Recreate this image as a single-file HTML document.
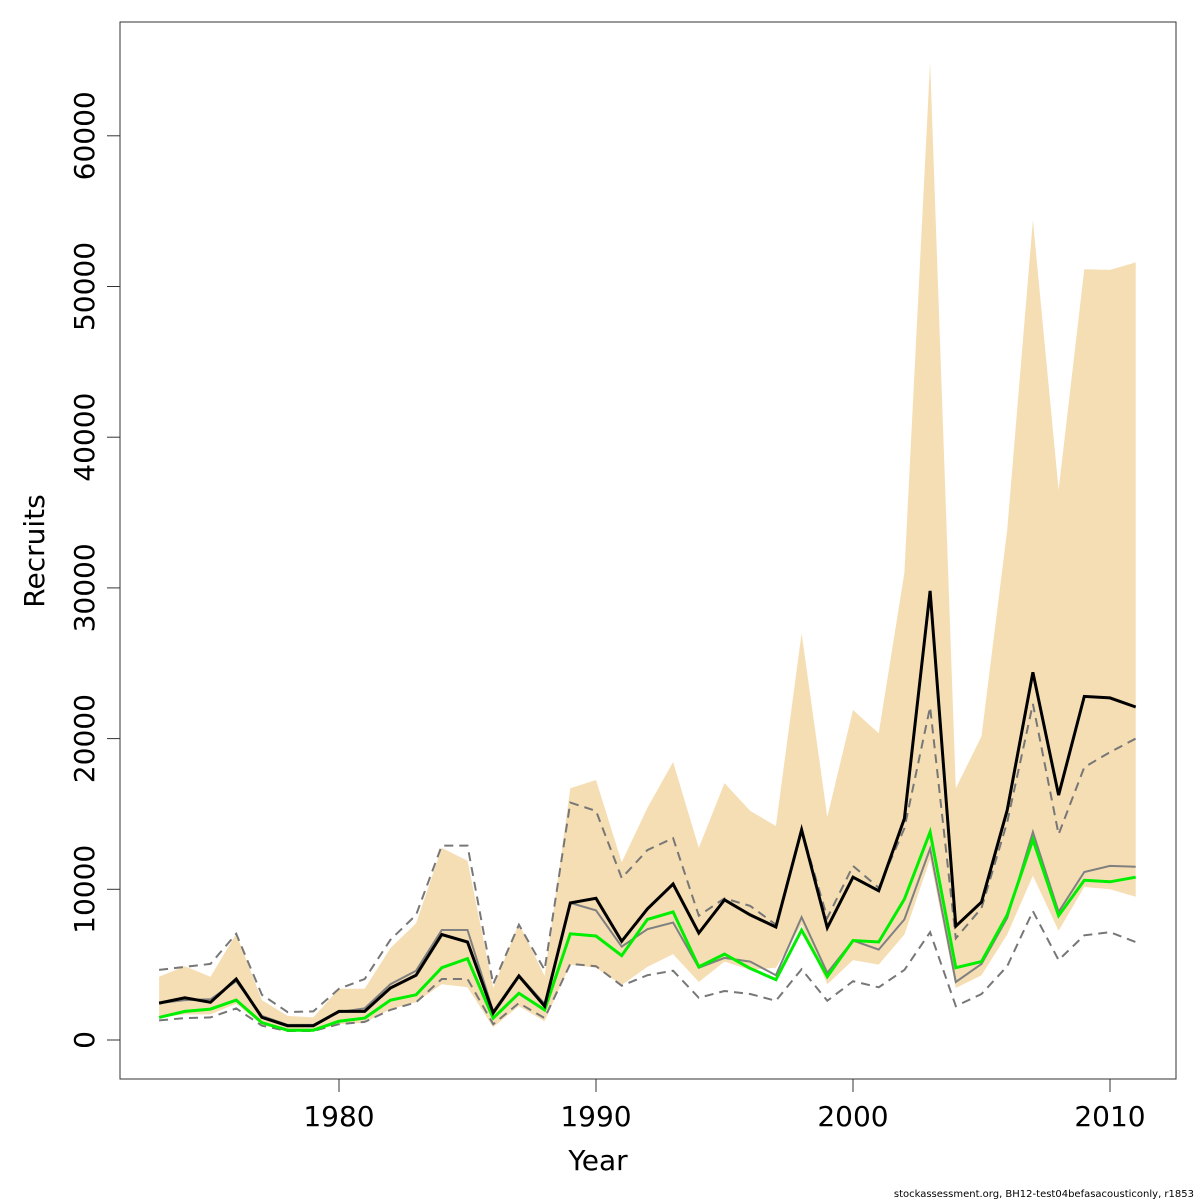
<!DOCTYPE html>
<html><head><meta charset="utf-8"><style>
body{margin:0;background:#fff}
svg{display:block;font-family:"DejaVu Sans","Liberation Sans",sans-serif}
</style></head><body>
<svg id="chart" width="1200" height="1200" viewBox="0 0 1200 1200" xmlns="http://www.w3.org/2000/svg">
<rect x="0" y="0" width="1200" height="1200" fill="#fff"/>
<g id="plot"></g>
<rect x="120" y="22" width="1056" height="1057" fill="none" stroke="#333" stroke-width="1"/>
<text x="598" y="1170" font-size="28" text-anchor="middle">Year</text>
<text transform="translate(44,551) rotate(-90)" font-size="28" text-anchor="middle">Recruits</text>
<text x="1194" y="1197" font-size="10" text-anchor="end">stockassessment.org, BH12-test04befasacousticonly, r1853</text>
</svg>
<script>
const years=[1973,1974,1975,1976,1977,1978,1979,1980,1981,1982,1983,1984,1985,1986,1987,1988,1989,1990,1991,1992,1993,1994,1995,1996,1997,1998,1999,2000,2001,2002,2003,2004,2005,2006,2007,2008,2009,2010,2011];
const bandUpper=[4.2,4.9,4.2,7.05,2.65,1.6,1.5,3.4,3.4,6.1,7.75,12.75,11.9,3.45,7.75,4.25,16.7,17.25,11.8,15.4,18.45,12.75,17.05,15.2,14.2,27.0,14.8,21.9,20.35,31.0,64.9,16.7,20.15,33.85,54.4,36.5,51.15,51.1,51.6];
const bandLower=[1.5,1.7,1.7,2.4,1.0,0.6,0.6,1.05,1.15,2.05,2.5,3.7,3.5,0.85,2.25,1.25,5.0,4.8,3.65,4.85,5.7,3.85,5.2,4.65,4.8,7.65,3.7,5.3,5.0,7.0,12.0,3.45,4.3,7.0,10.9,7.25,10.15,10.0,9.5];
const dashUpper=[4.65,4.85,5.05,7.05,3.0,1.85,1.9,3.4,4.05,6.65,8.3,12.9,12.9,3.7,7.65,4.65,15.75,15.2,10.75,12.6,13.4,8.25,9.4,8.9,7.65,13.95,8.1,11.55,10.1,14.05,22.1,6.75,8.75,14.45,22.3,13.65,18.1,19.1,20.0];
const dashLower=[1.3,1.45,1.5,2.1,0.95,0.6,0.6,1.05,1.2,2.0,2.5,4.05,4.05,1.05,2.45,1.45,5.05,4.9,3.6,4.3,4.6,2.8,3.25,3.05,2.6,4.7,2.6,3.9,3.5,4.65,7.15,2.25,3.05,4.9,8.55,5.3,6.95,7.15,6.5];
const grayLine=[2.45,2.65,2.7,3.9,1.6,1.0,1.0,1.85,2.1,3.7,4.6,7.3,7.3,1.9,4.3,2.4,9.1,8.6,6.2,7.35,7.8,4.8,5.45,5.2,4.3,8.15,4.45,6.6,6.0,8.0,12.7,3.85,5.05,8.1,13.8,8.5,11.15,11.55,11.5];
const greenLine=[1.5,1.9,2.05,2.65,1.15,0.65,0.65,1.25,1.45,2.65,3.0,4.8,5.4,1.45,3.1,2.0,7.05,6.9,5.6,8.0,8.5,4.85,5.7,4.75,4.0,7.3,4.2,6.6,6.5,9.35,13.8,4.8,5.2,8.3,13.3,8.25,10.6,10.5,10.8];
const blackLine=[2.45,2.8,2.5,4.05,1.5,0.95,0.95,1.9,1.9,3.45,4.3,7.0,6.5,1.8,4.25,2.25,9.1,9.4,6.55,8.7,10.35,7.1,9.3,8.3,7.5,13.95,7.45,10.8,9.9,14.7,29.8,7.55,9.15,15.25,24.4,16.25,22.8,22.7,22.1];
const xTicks=[1980,1990,2000,2010];
const yTicks=[0,10000,20000,30000,40000,50000,60000];

const NS='http://www.w3.org/2000/svg';
const X=y=>339+(y-1980)*25.7;
const Y=v=>1040-v*15.07; // v in thousands
const g=document.getElementById('plot');
function mk(tag,attrs){const e=document.createElementNS(NS,tag);for(const k in attrs)e.setAttribute(k,attrs[k]);g.appendChild(e);return e;}
const pts=arr=>arr.map((v,i)=>X(years[i]).toFixed(1)+','+Y(v).toFixed(1)).join(' ');
const band=mk('polygon',{points:pts(bandUpper)+' '+bandLower.map((v,i)=>i).reverse().map(i=>X(years[i]).toFixed(1)+','+Y(bandLower[i]).toFixed(1)).join(' '),fill:'#f5deb3'});


const l1=mk('polyline',{points:pts(dashUpper),fill:'none',stroke:'#777','stroke-width':2,'stroke-dasharray':'9,6'});


const l2=mk('polyline',{points:pts(dashLower),fill:'none',stroke:'#777','stroke-width':2,'stroke-dasharray':'9,6'});


const l3=mk('polyline',{points:pts(grayLine),fill:'none',stroke:'#808080','stroke-width':2});


const l4=mk('polyline',{points:pts(greenLine),fill:'none',stroke:'#00ee00','stroke-width':3});


const l5=mk('polyline',{points:pts(blackLine),fill:'none',stroke:'#000','stroke-width':3});


// axes
const xa=mk('line',{x1:X(1980),x2:X(2010),y1:1079,y2:1079,stroke:'#333'});


xTicks.forEach(t=>{
  const tk=mk('line',{x1:X(t),x2:X(t),y1:1079,y2:1092,stroke:'#333'});
  
  
  const tx=mk('text',{x:X(t),y:1126,'font-size':28,'text-anchor':'middle'});
  tx.textContent=t;
  
  
});
const ya=mk('line',{x1:120,x2:120,y1:Y(0),y2:Y(60),stroke:'#333'});


yTicks.forEach(t=>{
  const y=Y(t/1000);
  const tk=mk('line',{x1:107,x2:120,y1:y,y2:y,stroke:'#333'});
  
  
  const tx=mk('text',{transform:`translate(94,${y}) rotate(-90)`,'font-size':28,'text-anchor':'middle'});
  tx.textContent=t;
  
  
});
</script>
</body></html>
